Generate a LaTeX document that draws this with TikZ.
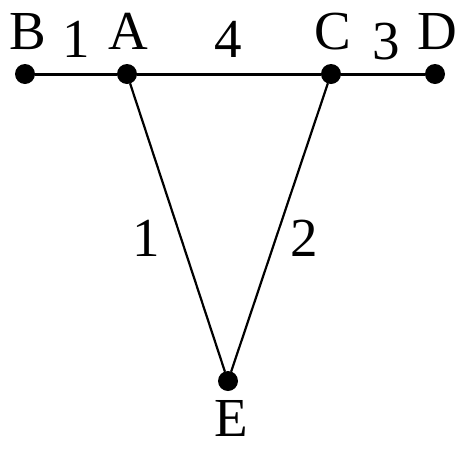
\documentclass[tikz,border=0pt]{standalone}
\usepackage{fontspec}
\setmainfont{Liberation Serif}
\begin{document}
\begin{tikzpicture}[x=1pt, y=-1pt, line cap=round, line join=round,
    dot/.style={circle, fill, inner sep=0pt, minimum size=20pt},
    lbl/.style={inner sep=0pt, font=\fontsize{55}{60}\selectfont}]
  \useasboundingbox (0,0) rectangle (456,448);
  % los puntos
  \node[dot] (B) at (25,74) {};
  \node[dot] (A) at (127,74) {};
  \node[dot] (C) at (331,74) {};
  \node[dot] (D) at (435,74) {};
  \node[dot] (E) at (228,381) {};
  % las aristas
  \draw[line width=3] (B) -- (A) -- (C) -- (D);
  \draw[line width=2.2] (A) -- (E) -- (C);
  % los nombres
  \node[lbl] (nB) at (27.5,31.5) {B};
  \node[lbl] (nA) at (128,31.5) {A};
  \node[lbl] (nC) at (333,31.5) {C};
  \node[lbl] (nD) at (437,31.5) {D};
  \node[lbl] (nE) at (231,418) {E};
  % los pesos
  \node[lbl] (wBA) at (76,39) {1};
  \node[lbl] (wAC) at (228,39) {4};
  \node[lbl] (wCD) at (386,41.5) {3};
  \node[lbl] (wAE) at (146,238) {1};
  \node[lbl] (wCE) at (304,238) {2};
\end{tikzpicture}
\end{document}
